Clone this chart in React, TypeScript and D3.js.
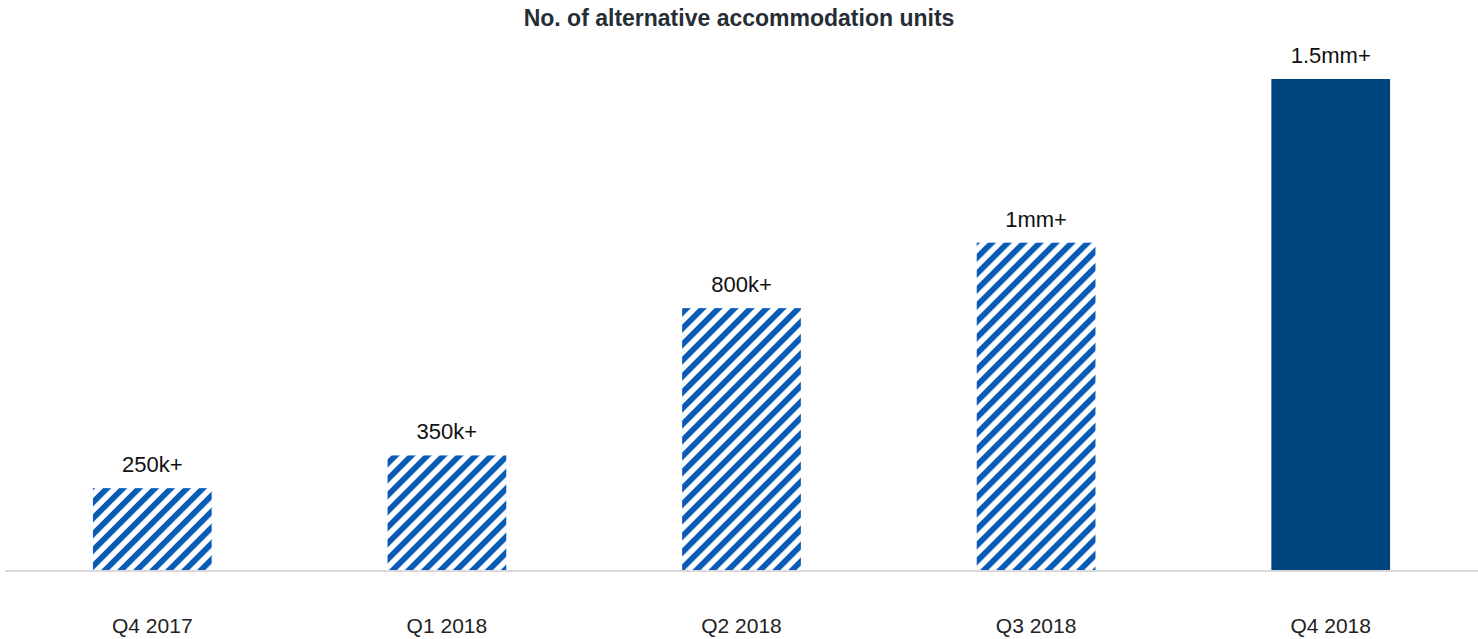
import React from "react";
import * as d3 from "d3";

const categories = ["Q4 2017", "Q1 2018", "Q2 2018", "Q3 2018", "Q4 2018"];
const values = [0.25, 0.35, 0.8, 1.0, 1.5];
const valueLabels = ["250k+", "350k+", "800k+", "1mm+", "1.5mm+"];
const hatched = [true, true, true, true, false];
const title = "No. of alternative accommodation units";

const W = 1478;
const H = 639;

export default function App() {
  const x = d3
    .scaleBand<string>()
    .domain(categories)
    .range([5, 1478])
    .paddingInner(0.597)
    .paddingOuter(0.2985);
  const y = d3.scaleLinear().domain([0, 1.5]).range([570, 79]);
  const font = "Liberation Sans, Arial, sans-serif";

  return (
    <svg
      width={W}
      height={H}
      style={{ position: "absolute", left: 0, top: 0, background: "#fff" }}
      fontFamily={font}
    >
      <defs>
        <pattern
          id="hatch"
          patternUnits="userSpaceOnUse"
          width={11.3}
          height={11.3}
          patternTransform="rotate(45)"
        >
          <rect x={0} y={0} width={5.8} height={11.3} fill="#0A5BB5" />
        </pattern>
      </defs>
      <text
        x={W / 2}
        y={26}
        textAnchor="middle"
        fontSize={23}
        fontWeight="bold"
        fill="#262d36"
      >
        {title}
      </text>
      {categories.map((c, i) => (
        <g key={c}>
          <rect
            x={x(c)}
            y={y(values[i])}
            width={x.bandwidth()}
            height={y(0) - y(values[i])}
            fill={hatched[i] ? "url(#hatch)" : "#00447F"}
          />
          <text
            x={(x(c) as number) + x.bandwidth() / 2}
            y={y(values[i]) - 16}
            textAnchor="middle"
            fontSize={22}
            fill="#111"
          >
            {valueLabels[i]}
          </text>
          <text
            x={(x(c) as number) + x.bandwidth() / 2}
            y={633}
            textAnchor="middle"
            fontSize={21}
            fill="#222"
          >
            {c}
          </text>
        </g>
      ))}
      <line x1={5} x2={W} y1={y(0) + 1} y2={y(0) + 1} stroke="#d9d9d9" strokeWidth={2} />
    </svg>
  );
}
